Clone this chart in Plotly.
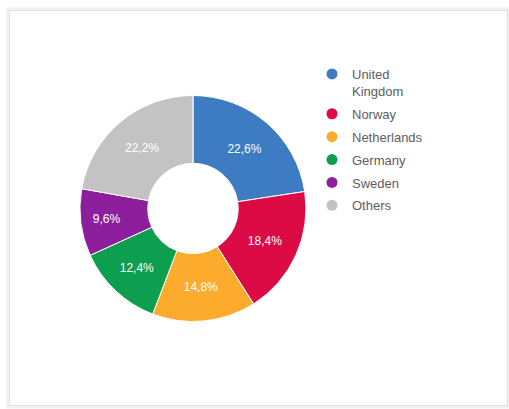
import plotly.graph_objects as go

# Share by country (%)
countries = ["United Kingdom", "Norway", "Netherlands", "Germany", "Sweden", "Others"]
legend_names = ["United<br>Kingdom", "Norway", "Netherlands", "Germany", "Sweden", "Others"]
shares = [22.6, 18.4, 14.8, 12.4, 9.6, 22.2]
colors = ["#3d7cc2", "#dc0a45", "#fcab2c", "#0e9e50", "#8e1f9c", "#c3c3c3"]

W, H = 509, 409

fig = go.Figure()

fig.add_trace(go.Pie(
    labels=countries,
    values=shares,
    marker=dict(colors=colors, line=dict(color="white", width=1)),
    hole=0.4,
    sort=False,
    direction="clockwise",
    rotation=0,
    texttemplate="%{value:.1f}%",
    textposition="inside",
    insidetextorientation="horizontal",
    insidetextfont=dict(color="white", size=12, family="Liberation Sans, Arial"),
    hoverinfo="label+value",
    showlegend=False,
    domain=dict(x=[80 / W, 306 / W], y=[1 - 322 / H, 1 - 95 / H]),
))

# Circular legend swatches
for i, (name, col) in enumerate(zip(legend_names, colors)):
    fig.add_trace(go.Scatter(
        x=[None], y=[None], mode="markers", name=name,
        legendgroup=f"g{i}",
        marker=dict(symbol="circle", size=11, color=col),
        hoverinfo="skip",
    ))

fig.update_layout(
    width=W, height=H,
    margin=dict(l=0, r=0, t=0, b=0),
    paper_bgcolor="white",
    plot_bgcolor="white",
    separators=",.",
    font=dict(family="Liberation Sans, Arial", size=13, color="#5e5e5e"),
    xaxis=dict(visible=False),
    yaxis=dict(visible=False),
    legend=dict(
        x=312 / W, y=1 - 59 / H, xanchor="left", yanchor="top",
        bgcolor="rgba(0,0,0,0)",
        font=dict(size=13, color="#5e5e5e"),
        itemsizing="trace",
        valign="top",
        tracegroupgap=3,
    ),
    shapes=[
        dict(type="rect", xref="paper", yref="paper",
             x0=8 / W, x1=508 / W, y0=1 - 407 / H, y1=1 - 9 / H,
             line=dict(color="#f1f1f1", width=3), layer="below"),
        dict(type="rect", xref="paper", yref="paper",
             x0=9.5 / W, x1=507.5 / W, y0=1 - 405.5 / H, y1=1 - 10.5 / H,
             line=dict(color="#e2e2e2", width=1), layer="below"),
    ],
)

fig.write_html("out.html")
